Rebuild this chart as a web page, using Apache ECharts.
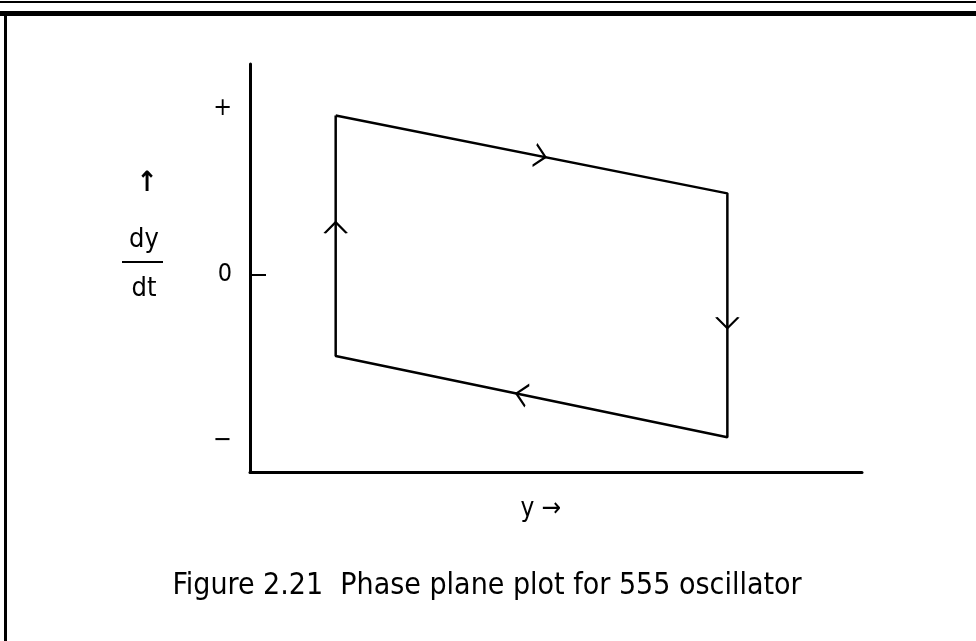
<!DOCTYPE html>
<html>
<head>
<meta charset="utf-8">
<script src="https://cdn.jsdelivr.net/npm/echarts@6/dist/echarts.min.js"></script>
<style>
  html, body { margin: 0; padding: 0; background: #fff; }
  #main { width: 976px; height: 641px; }
</style>
</head>
<body>
<div id="main"></div>
<script>
// loop corners (y, dy/dt), clockwise
var loopX = [1.4, 7.8, 7.8, 1.4, 1.4]
var loopY = [0.96, 0.49, -0.98, -0.49, 0.96]
// direction arrows on each edge
var arrowX = [4.74, 7.8, 4.44, 1.4]
var arrowY = [0.715, -0.29, -0.723, 0.283]
var arrowAngle = [-11.3, -90, 168.7, 90]
// tick labels on the dy/dt axis
var tickValues = [1, 0, -1]
var tickText = ['+', '0', '\u2212']

var chevron = 'path://M0,0 L10,10 L0,20'
var font = "'Liberation Sans Narrow', 'DejaVu Sans Condensed', 'DejaVu Sans', sans-serif"

var myChart = echarts.init(document.getElementById('main'))

var option = {
  backgroundColor: '#fff',
  animation: false,
  grid: { left: 250, right: 114, top: 64, bottom: 169 },
  xAxis: {
    type: 'value',
    min: 0,
    max: 10,
    name: 'y \u2192',
    nameLocation: 'middle',
    nameGap: 24,
    nameTextStyle: { color: '#000', fontSize: 26, fontFamily: font, padding: [0, 30, 0, 0] },
    axisLine: { onZero: false, lineStyle: { color: '#000', width: 3 } },
    axisTick: { show: false },
    axisLabel: { show: false },
    splitLine: { show: false }
  },
  yAxis: {
    type: 'value',
    min: -1.19,
    max: 1.27,
    axisLine: { show: true, onZero: false, lineStyle: { color: '#000', width: 3 } },
    axisTick: {
      show: true,
      inside: true,
      length: 16,
      customValues: [0],
      lineStyle: { color: '#000', width: 2 }
    },
    axisLabel: {
      customValues: tickValues,
      margin: 18,
      color: '#000',
      fontSize: 25,
      fontFamily: font,
      formatter: function (v) {
        var i = tickValues.indexOf(v)
        return i >= 0 ? tickText[i] : ''
      }
    },
    splitLine: { show: false }
  },
  graphic: [
    // frame
    { type: 'rect', shape: { x: 0, y: 1, width: 976, height: 2 }, style: { fill: '#000' } },
    { type: 'rect', shape: { x: 0, y: 11, width: 976, height: 5 }, style: { fill: '#000' } },
    { type: 'rect', shape: { x: 4, y: 11, width: 3, height: 630 }, style: { fill: '#000' } },
    // dy/dt label
    { type: 'text', x: 147, y: 184, style: { text: '\u2191', fill: '#000', font: 'bold 28px ' + font, textAlign: 'center', textVerticalAlign: 'middle' } },
    { type: 'text', x: 144, y: 240, style: { text: 'dy', fill: '#000', font: '27px ' + font, textAlign: 'center', textVerticalAlign: 'middle' } },
    { type: 'rect', shape: { x: 122, y: 261, width: 41, height: 2 }, style: { fill: '#000' } },
    { type: 'text', x: 144, y: 289, style: { text: 'dt', fill: '#000', font: '27px ' + font, textAlign: 'center', textVerticalAlign: 'middle' } },
    // caption
    { type: 'text', x: 487, y: 586, style: { text: 'Figure 2.21  Phase plane plot for 555 oscillator', fill: '#000', font: '30px ' + font, textAlign: 'center', textVerticalAlign: 'middle' } }
  ],
  series: [
    {
      type: 'line',
      data: loopX.map(function (x, i) { return [x, loopY[i]] }),
      showSymbol: false,
      lineStyle: { color: '#000', width: 2.5 }
    },
    {
      type: 'scatter',
      data: arrowX.map(function (x, i) {
        return { value: [x, arrowY[i]], symbolRotate: arrowAngle[i] }
      }),
      symbol: chevron,
      symbolSize: [11, 22],
      itemStyle: { color: 'none', borderColor: '#000', borderWidth: 2, opacity: 1 }
    }
  ]
}

myChart.setOption(option)
</script>
</body>
</html>
